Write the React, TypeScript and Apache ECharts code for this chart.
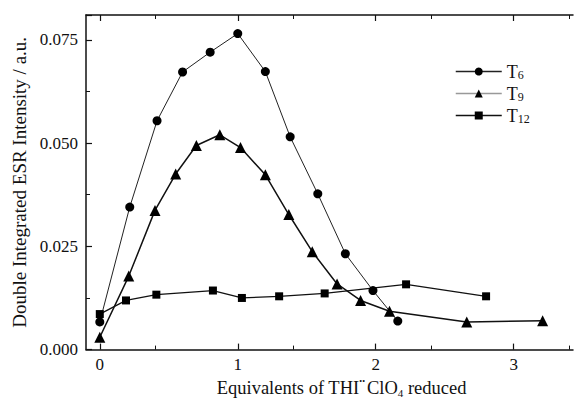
import React, { useEffect, useRef } from "react";
import * as echarts from "echarts";

const t6X = [0, 0.217, 0.415, 0.6, 0.8, 1.0, 1.2, 1.38, 1.58, 1.78, 1.98, 2.16];
const t6Y = [0.0067, 0.0345, 0.0554, 0.0672, 0.072, 0.0765, 0.0673, 0.0515, 0.0377, 0.0232, 0.0143, 0.0069];
const t9X = [0, 0.21, 0.4, 0.55, 0.7, 0.87, 1.02, 1.2, 1.37, 1.54, 1.72, 1.89, 2.1, 2.66, 3.21];
const t9Y = [0.003, 0.0178, 0.0337, 0.0425, 0.0494, 0.052, 0.0489, 0.0423, 0.0327, 0.0237, 0.0159, 0.0119, 0.0093, 0.0067, 0.007];
const t12X = [0, 0.19, 0.41, 0.82, 1.03, 1.3, 1.63, 2.22, 2.8];
const t12Y = [0.0086, 0.0119, 0.0133, 0.0143, 0.0125, 0.0129, 0.0136, 0.0158, 0.0129];
const seriesNames = ["T6", "T9", "T12"];
const xTicks = [0, 1, 2, 3];

const FONT = "Liberation Serif";

export default function App() {
  const ref = useRef<HTMLDivElement>(null);
  useEffect(() => {
    if (!ref.current) return;
    const chart = echarts.init(ref.current, undefined, { renderer: "svg" });
    const zip = (xs: number[], ys: number[]) => xs.map((x, i) => [x, ys[i]]);
    const axisCommon = {
      axisLine: { show: true, onZero: false, lineStyle: { color: "#111", width: 1.5 } },
      axisTick: { show: true, inside: true, length: 6, lineStyle: { color: "#111", width: 1.2 } },
      minorTick: { show: true, splitNumber: 2, length: 4, lineStyle: { color: "#111", width: 1 } },
      splitLine: { show: false },
    };
    chart.setOption({
      animation: false,
      backgroundColor: "#fff",
      grid: { left: 86, right: 2, top: 15, bottom: 50 },
      legend: {
        left: 455,
        top: 62,
        padding: 0,
        orient: "vertical",
        itemWidth: 46,
        itemHeight: 10,
        itemGap: 3,
        data: [
          { name: "T6", lineStyle: { color: "#222", width: 1.5 } },
          { name: "T9", lineStyle: { color: "#999", width: 1.5 } },
          { name: "T12", lineStyle: { color: "#111", width: 1.5 } },
        ],
        formatter: (name: string) => "{m|T}{s|" + name.slice(1) + "}",
        textStyle: {
          fontFamily: FONT,
          fontSize: 18,
          color: "#111",
          rich: {
            m: { fontFamily: FONT, fontSize: 18, color: "#111", lineHeight: 19 },
            s: { fontFamily: FONT, fontSize: 12, color: "#111", verticalAlign: "bottom", lineHeight: 19, padding: [7, 0, 0, 0] },
          },
        },
      },
      xAxis: [
        {
          type: "value",
          min: -0.1,
          max: 3.43,
          interval: 1,
          position: "bottom",
          ...axisCommon,
          axisLabel: {
            fontFamily: FONT,
            fontSize: 17,
            color: "#111",
            margin: 6,
            customValues: xTicks,
            formatter: (v: number) => String(v),
          },
          axisTick: { ...axisCommon.axisTick, customValues: xTicks },
          name: "Equivalents of THI{sup|••}ClO{sub|4} reduced",
          nameLocation: "middle",
          nameGap: 27,
          nameTextStyle: {
            fontFamily: FONT,
            fontSize: 18.5,
            color: "#111",
            padding: [0, 0, 0, 24],
            rich: {
              sup: { fontFamily: FONT, fontSize: 8, color: "#111", padding: [0, 2, 12, 0] },
              sub: { fontFamily: FONT, fontSize: 11, color: "#111", padding: [10, 0, 0, 0] },
            },
          },
        },
        {
          type: "value",
          min: -0.1,
          max: 3.43,
          interval: 1,
          position: "top",
          ...axisCommon,
          axisTick: { ...axisCommon.axisTick, customValues: xTicks },
          axisLabel: { show: false },
        },
      ],
      yAxis: {
        type: "value",
        min: 0,
        max: 0.081,
        interval: 0.025,
        ...axisCommon,
        axisLabel: {
          fontFamily: FONT,
          fontSize: 17,
          color: "#111",
          margin: 8,
          showMaxLabel: false,
          formatter: (v: number) => v.toFixed(3),
        },
        name: "Double Integrated ESR Intensity / a.u.",
        nameLocation: "middle",
        nameGap: 57,
        nameTextStyle: { fontFamily: FONT, fontSize: 19, color: "#111" },
      },
      series: [
        {
          name: seriesNames[0],
          type: "line",
          data: zip(t6X, t6Y),
          symbol: "circle",
          symbolSize: 9,
          itemStyle: { color: "#000" },
          lineStyle: { color: "#222", width: 1 },
        },
        {
          name: seriesNames[1],
          type: "line",
          data: zip(t9X, t9Y),
          symbol: "triangle",
          symbolSize: 11,
          itemStyle: { color: "#000" },
          lineStyle: { color: "#111", width: 1.5 },
        },
        {
          name: seriesNames[2],
          type: "line",
          data: zip(t12X, t12Y),
          symbol: "rect",
          symbolSize: 8,
          itemStyle: { color: "#000" },
          lineStyle: { color: "#111", width: 1.3 },
        },
      ],
    });
    return () => chart.dispose();
  }, []);
  return (
    <div
      ref={ref}
      style={{ position: "fixed", left: 0, top: 0, width: 575, height: 403, background: "#fff" }}
    />
  );
}
